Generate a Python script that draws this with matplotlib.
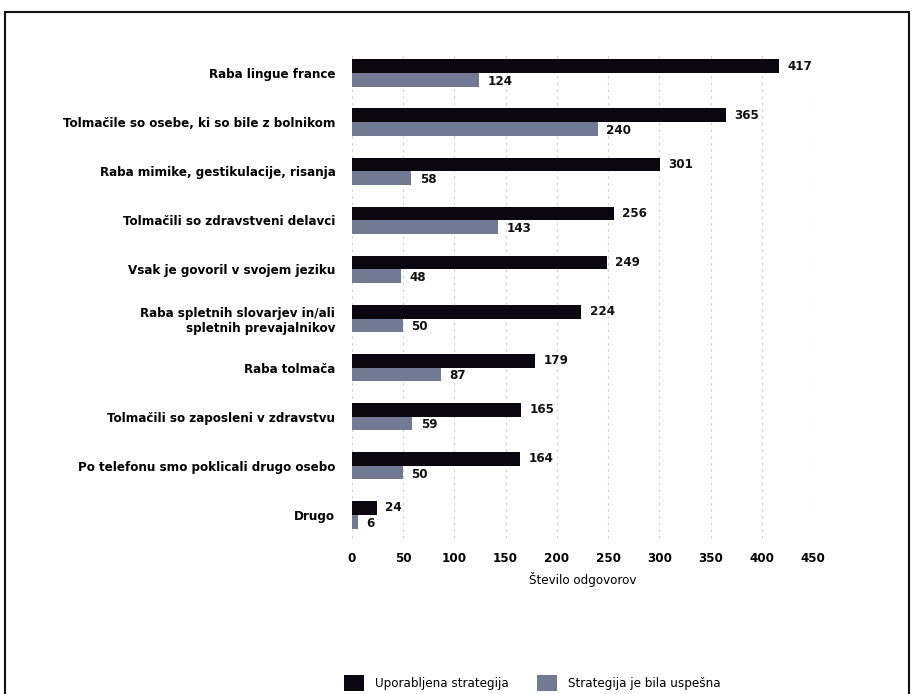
import matplotlib.pyplot as plt
import numpy as np
from matplotlib.patches import Rectangle

plt.rcParams['font.family'] = ['DejaVu Sans']
plt.rcParams['font.stretch'] = 'condensed'

kategorije = [
    'Raba lingue france',
    'Tolmačile so osebe, ki so bile z bolnikom',
    'Raba mimike, gestikulacije, risanja',
    'Tolmačili so zdravstveni delavci',
    'Vsak je govoril v svojem jeziku',
    'Raba spletnih slovarjev in/ali\nspletnih prevajalnikov',
    'Raba tolmača',
    'Tolmačili so zaposleni v zdravstvu',
    'Po telefonu smo poklicali drugo osebo',
    'Drugo',
]
uporabljena = [417, 365, 301, 256, 249, 224, 179, 165, 164, 24]
uspesna = [124, 240, 58, 143, 48, 50, 87, 59, 50, 6]
x_ticks = [0, 50, 100, 150, 200, 250, 300, 350, 400, 450]

temna = '#0b0710'
siva = '#717993'

fig = plt.figure(figsize=(9.13, 6.94), dpi=100)
ax = fig.add_axes([0.3855, 0.225, 0.505, 0.70])

y = np.arange(len(kategorije))
h = 0.28
ax.barh(y - h / 2, uporabljena, height=h, color=temna, label='Uporabljena strategija')
ax.barh(y + h / 2, uspesna, height=h, color=siva, label='Strategija je bila uspešna')

for i in range(len(kategorije)):
    ax.text(uporabljena[i] + 8, y[i] - h / 2, str(uporabljena[i]), va='center',
            ha='left', fontsize=9.5, fontweight='bold', color='#111111')
    ax.text(uspesna[i] + 8, y[i] + h / 2 + 0.03, str(uspesna[i]), va='center',
            ha='left', fontsize=9.5, fontweight='bold', color='#111111')

ax.set_xlim(0, 450)
ax.set_ylim(9.47, -0.43)
ax.set_xticks(x_ticks)
ax.set_xticklabels([str(t) for t in x_ticks], fontsize=9.5, fontweight='bold')
ax.set_yticks(y)
ax.set_yticklabels(kategorije, fontsize=9.5, fontweight='bold')
ax.tick_params(axis='x', length=0, pad=10)
ax.tick_params(axis='y', length=0, pad=12)
ax.set_xlabel('Število odgovorov', fontsize=9.5, labelpad=5)
ax.grid(axis='x', color='#cfcfcf', linestyle=(0, (2, 4)), linewidth=0.8)
ax.set_axisbelow(True)
for s in ax.spines.values():
    s.set_visible(False)

fig.legend(loc='center', bbox_to_anchor=(0.583, 0.016), ncol=2, frameon=False,
           fontsize=9.5, handlelength=1.5, handleheight=1.5, columnspacing=2.2)

fig.patches.append(Rectangle((0.006, -0.01), 0.99, 0.993, transform=fig.transFigure,
                             fill=False, edgecolor='#111111', linewidth=1.5))

fig.savefig('out.png', dpi=100)
